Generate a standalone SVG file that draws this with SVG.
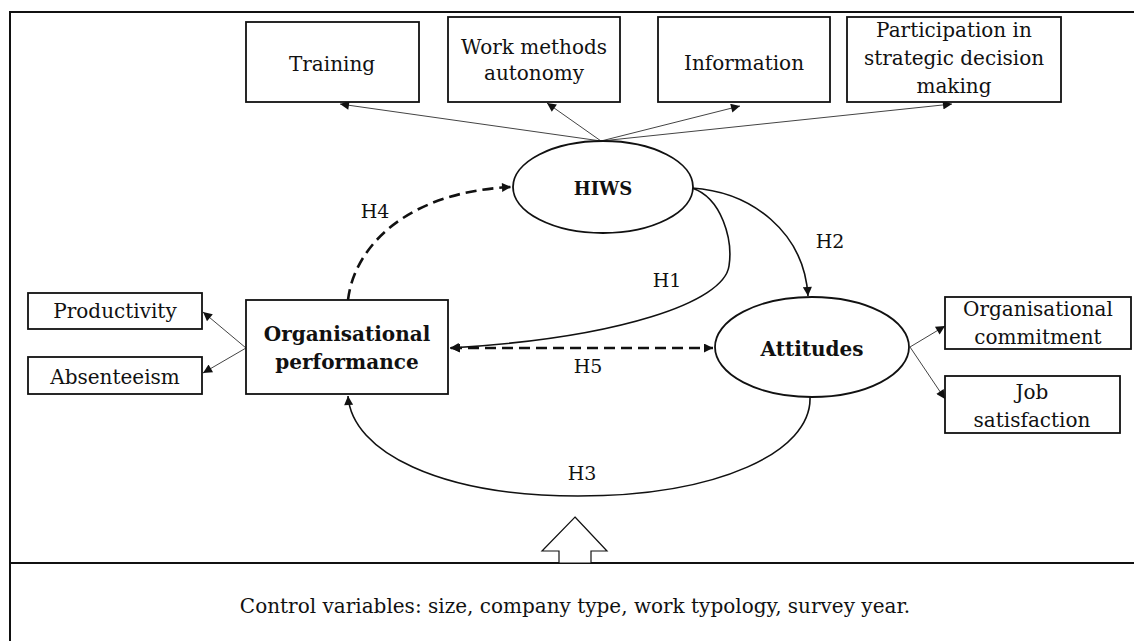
<svg xmlns="http://www.w3.org/2000/svg" width="1134" height="641" viewBox="0 0 1134 641">
<style>
.bg{fill:#fff}
.frame{stroke:#111;stroke-width:2;fill:none}
.box{fill:#fff;stroke:#111;stroke-width:1.8}
.ell{fill:#fff;stroke:#111;stroke-width:1.8}
.t{font-family:"DejaVu Serif","Liberation Serif",serif;font-size:20px;fill:#111;text-anchor:middle}
.b{font-family:"DejaVu Serif","Liberation Serif",serif;font-size:20px;font-weight:bold;fill:#111;text-anchor:middle}
.lbl{font-family:"DejaVu Serif","Liberation Serif",serif;font-size:19px;fill:#111;text-anchor:middle}
.foot{font-family:"DejaVu Serif","Liberation Serif",serif;font-size:20px;fill:#111;text-anchor:middle}
.thin{stroke:#444;stroke-width:1;fill:none}
.main{stroke:#111;stroke-width:1.6;fill:none}
.dash{stroke:#111;stroke-width:2.6;fill:none;stroke-dasharray:11 6}
</style>
<defs>
<marker id="ah" viewBox="0 0 10 10" refX="10" refY="5" markerWidth="11" markerHeight="9" markerUnits="userSpaceOnUse" orient="auto-start-reverse">
<path d="M0,0 L10,5 L0,10 z" fill="#111"/>
</marker>
</defs>
<rect class="bg" x="0" y="0" width="1134" height="641"/>
<g id="frame">
<line class="frame" x1="9" y1="12" x2="1134" y2="12"/>
<line class="frame" x1="10" y1="12" x2="10" y2="641"/>
<line class="frame" x1="9" y1="563" x2="1134" y2="563" stroke-width="2.4"/>
</g>
<g id="connectors">
<line class="thin" x1="601" y1="141" x2="340" y2="104" marker-end="url(#ah)"/>
<line class="thin" x1="601" y1="141" x2="547" y2="103" marker-end="url(#ah)"/>
<line class="thin" x1="601" y1="141" x2="740" y2="106" marker-end="url(#ah)"/>
<line class="thin" x1="601" y1="141" x2="952" y2="104" marker-end="url(#ah)"/>
<line class="thin" x1="246" y1="348" x2="203" y2="312" marker-end="url(#ah)"/>
<line class="thin" x1="246" y1="348" x2="203" y2="373" marker-end="url(#ah)"/>
<line class="thin" x1="910" y1="347" x2="945" y2="326" marker-end="url(#ah)"/>
<line class="thin" x1="910" y1="347" x2="945" y2="399" marker-end="url(#ah)"/>
<path class="dash" d="M348,300 C354,248 405,192 511,187" marker-end="url(#ah)"/>
<path class="main" d="M692,188 C722,198 733,240 729,266 C724,302 620,338 450,348" marker-end="url(#ah)"/>
<path class="main" d="M692,188 C752,192 804,232 808,296" marker-end="url(#ah)"/>
<path class="dash" d="M451,348 L713,348" marker-start="url(#ah)" marker-end="url(#ah)"/>
<path class="main" d="M810,397 C812,452 718,496 578,496 C440,496 352,452 348,396" marker-end="url(#ah)"/>
<polygon points="575,517 607,551 591,551 591,563 559,563 559,551 542,551" fill="#fff" stroke="#111" stroke-width="1.2"/>
<text class="lbl" x="375" y="218">H4</text>
<text class="lbl" x="830" y="248">H2</text>
<text class="lbl" x="667" y="287">H1</text>
<text class="lbl" x="588" y="373">H5</text>
<text class="lbl" x="582" y="480">H3</text>
</g>
<g id="training">
<rect class="box" x="246" y="22" width="173" height="80"/>
<text class="t" x="332" y="71">Training</text>
</g>
<g id="work-methods">
<rect class="box" x="448" y="17" width="172" height="85"/>
<text class="t" x="534" y="54">Work methods</text>
<text class="t" x="534" y="80">autonomy</text>
</g>
<g id="information">
<rect class="box" x="658" y="17" width="172" height="85"/>
<text class="t" x="744" y="70">Information</text>
</g>
<g id="participation">
<rect class="box" x="847" y="17" width="214" height="85"/>
<text class="t" x="954" y="37">Participation in</text>
<text class="t" x="954" y="65">strategic decision</text>
<text class="t" x="954" y="93">making</text>
</g>
<g id="hiws">
<ellipse class="ell" cx="603" cy="187" rx="90" ry="46"/>
<text class="b" x="603" y="195" style="font-size:18px">HIWS</text>
</g>
<g id="org-performance">
<rect class="box" x="246" y="300" width="202" height="94"/>
<text class="b" x="347" y="341">Organisational</text>
<text class="b" x="347" y="369">performance</text>
</g>
<g id="productivity">
<rect class="box" x="28" y="293" width="174" height="36"/>
<text class="t" x="115" y="318">Productivity</text>
</g>
<g id="absenteeism">
<rect class="box" x="28" y="357" width="174" height="37"/>
<text class="t" x="115" y="384">Absenteeism</text>
</g>
<g id="attitudes">
<ellipse class="ell" cx="812" cy="347" rx="97" ry="50"/>
<text class="b" x="812" y="356">Attitudes</text>
</g>
<g id="org-commitment">
<rect class="box" x="945" y="297" width="186" height="52"/>
<text class="t" x="1038" y="316">Organisational</text>
<text class="t" x="1038" y="344">commitment</text>
</g>
<g id="job-satisfaction">
<rect class="box" x="945" y="376" width="175" height="57"/>
<text class="t" x="1032" y="399">Job</text>
<text class="t" x="1032" y="427">satisfaction</text>
</g>
<g id="controls">
<text class="foot" x="575" y="613">Control variables: size, company type, work typology, survey year.</text>
</g>
</svg>
